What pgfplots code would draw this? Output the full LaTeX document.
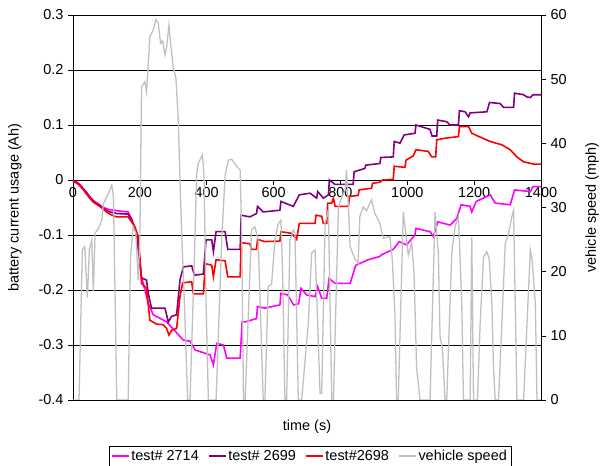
\documentclass[border=0pt]{standalone}
\usepackage{pgfplots}
\pgfplotsset{compat=1.18}
\usepackage{fontspec}
\setmainfont{Liberation Sans}
\definecolor{cmag}{RGB}{255,0,255}
\definecolor{cpur}{RGB}{128,0,128}
\definecolor{cred}{RGB}{255,0,0}
\definecolor{cgray}{RGB}{192,192,192}
\begin{document}
\begin{tikzpicture}[font=\fontsize{14.5}{17}\selectfont]
\begin{axis}[
  scale only axis, width=468bp, height=385bp,
  xmin=0, xmax=1400, ymin=-0.4, ymax=0.3,
  axis x line*=middle, axis y line*=left,
  hide obscured x ticks=false, hide obscured y ticks=false,
  axis line style={-, black, line width=0.8pt},
  xtick={0,200,400,600,800,1000,1200,1400},
  xticklabels={0,200,400,600,800,1000,1200,1400},
  ytick={-0.4,-0.3,-0.2,-0.1,0,0.1,0.2,0.3},
  yticklabels={-0.4,-0.3,-0.2,-0.1,0,0.1,0.2,0.3},
  tick align=outside, major tick length=5bp,
  tick style={black, line width=0.6pt},
  ymajorgrids, grid style={black, line width=0.6pt},
  /pgf/number format/assume math mode=true,
  xticklabel style={anchor=north, yshift=1bp},
  yticklabel style={anchor=east, xshift=-1bp},
  ylabel={battery current usage (Ah)},
  ylabel style={at={(axis description cs:-0.124,0.5)}, anchor=center},
  xlabel={time (s)},
  xlabel style={at={(axis description cs:0.5,-0.07)}, anchor=center},
  legend style={at={(axis description cs:0.506,-0.119)}, anchor=north,
    legend columns=4, draw=black, inner sep=2bp,
    /tikz/every even column/.append style={column sep=7bp},
    font=\fontsize{14.5}{17}\selectfont},
  clip=true,
]
\addplot[cmag, line width=1.6pt] coordinates {
(0,-0.002) (10,-0.003) (20,-0.008) (30,-0.015) (40,-0.022) (50,-0.030) (60,-0.037) (70,-0.041) (80,-0.045) (91,-0.050) (100,-0.052) (110,-0.054) (125,-0.055) (131,-0.056) (165,-0.058)
(175,-0.070) (190,-0.097) (205,-0.176) (225,-0.224) (240,-0.245) (280,-0.258) (330,-0.291) (350,-0.293) (365,-0.309) (410,-0.318) (420,-0.336) (430,-0.297) (450,-0.300) (460,-0.324) (500,-0.324)
(506,-0.258) (515,-0.258) (549,-0.252) (552,-0.230) (574,-0.233) (619,-0.227) (622,-0.206) (642,-0.209) (660,-0.227) (675,-0.225) (682,-0.197) (699,-0.209) (724,-0.212) (732,-0.194) (744,-0.215) (759,-0.215)
(766,-0.179) (784,-0.188) (829,-0.188) (846,-0.155) (883,-0.145) (918,-0.139) (923,-0.136) (958,-0.126) (976,-0.112) (998,-0.118) (1023,-0.100) (1026,-0.088) (1068,-0.094) (1078,-0.103)
(1091,-0.076) (1128,-0.082) (1148,-0.070) (1161,-0.045) (1188,-0.048) (1193,-0.058) (1206,-0.039) (1248,-0.027) (1263,-0.042) (1308,-0.045) (1321,-0.018) (1368,-0.021) (1376,-0.012) (1400,-0.012)
};
\addlegendentry{test\# 2714}
\addplot[cpur, line width=1.6pt] coordinates {
(0,-0.003) (10,-0.004) (20,-0.009) (30,-0.016) (40,-0.023) (50,-0.031) (60,-0.038) (70,-0.043) (80,-0.047) (91,-0.052) (100,-0.055) (110,-0.058) (125,-0.060) (131,-0.061) (165,-0.062)
(175,-0.072) (190,-0.095) (200,-0.150) (205,-0.178) (220,-0.182) (225,-0.206) (235,-0.233) (275,-0.233) (280,-0.245) (285,-0.258) (295,-0.248) (310,-0.245) (320,-0.182) (330,-0.158) (355,-0.156)
(363,-0.173) (390,-0.171) (398,-0.109) (415,-0.109) (420,-0.130) (428,-0.094) (455,-0.094) (463,-0.126) (500,-0.126) (503,-0.064) (529,-0.067) (549,-0.061) (552,-0.048) (569,-0.058) (619,-0.055)
(622,-0.039) (659,-0.048) (677,-0.027) (709,-0.024) (729,-0.033) (732,-0.021) (749,-0.033) (764,-0.027) (767,0.000) (784,-0.008) (838,-0.008) (841,0.015) (873,0.021) (876,0.027) (918,0.030)
(921,0.041) (958,0.042) (961,0.070) (978,0.067) (991,0.082) (1023,0.085) (1026,0.100) (1068,0.092) (1074,0.080) (1088,0.080) (1091,0.109) (1118,0.106) (1128,0.100) (1153,0.100) (1156,0.126)
(1173,0.124) (1183,0.115) (1188,0.122) (1238,0.124) (1246,0.141) (1278,0.139) (1288,0.132) (1318,0.132) (1321,0.158) (1348,0.155) (1358,0.151) (1368,0.150) (1376,0.155) (1400,0.155)
};
\addlegendentry{test\# 2699}
\addplot[cred, line width=1.6pt] coordinates {
(0,-0.004) (10,-0.005) (20,-0.010) (30,-0.017) (40,-0.025) (50,-0.033) (60,-0.040) (70,-0.044) (80,-0.048) (91,-0.053) (100,-0.058) (110,-0.062) (125,-0.066) (131,-0.067) (165,-0.067)
(175,-0.076) (185,-0.085) (195,-0.103) (200,-0.139) (205,-0.188) (220,-0.197) (230,-0.255) (250,-0.262) (270,-0.263) (280,-0.270) (287,-0.282) (295,-0.273) (310,-0.270) (320,-0.212) (328,-0.187)
(355,-0.185) (360,-0.207) (390,-0.207) (396,-0.152) (415,-0.155) (420,-0.176) (428,-0.145) (455,-0.147) (463,-0.176) (500,-0.176) (503,-0.114) (529,-0.116) (534,-0.126) (549,-0.126) (552,-0.108)
(574,-0.112) (619,-0.111) (622,-0.094) (654,-0.097) (669,-0.108) (677,-0.079) (724,-0.079) (727,-0.064) (744,-0.066) (749,-0.079) (759,-0.079) (762,-0.042) (774,-0.042) (779,-0.033) (784,-0.048)
(824,-0.048) (827,-0.030) (853,-0.028) (856,-0.018) (893,-0.015) (896,-0.006) (918,-0.004) (926,0.000) (958,0.001) (961,0.025) (993,0.023) (996,0.036) (1018,0.044) (1026,0.055) (1063,0.052)
(1073,0.042) (1085,0.042) (1088,0.073) (1113,0.076) (1153,0.079) (1156,0.097) (1183,0.097) (1193,0.085) (1218,0.078) (1248,0.070) (1283,0.064) (1308,0.055) (1328,0.042) (1348,0.033) (1378,0.029) (1400,0.029)
};
\addlegendentry{test\#2698}
\addlegendimage{cgray, line width=1.6pt}
\addlegendentry{vehicle speed}
\end{axis}
\begin{axis}[
  scale only axis, width=468bp, height=385bp,
  xmin=0, xmax=1400, ymin=0, ymax=60,
  axis x line=none, axis y line*=right,
  axis line style={-, black, line width=0.8pt},
  ytick={0,10,20,30,40,50,60},
  yticklabels={0,10,20,30,40,50,60},
  tick align=outside, major tick length=5bp,
  tick style={black, line width=0.6pt},
  yticklabel style={anchor=west, xshift=1bp},
  ylabel={vehicle speed (mph)},
  ylabel style={at={(axis description cs:1.109,0.5)}, anchor=center},
]
\addplot[cgray, line width=1.3pt] coordinates {
(0,0) (18,0) (28,23.4) (35,23.9) (43,16) (49,23.4) (56,24.9) (61,17) (66,26) (76,26.7) (86,28) (91,30.6) (106,32.2) (116,33.5) (121,31.7) (131,0) (165,0)
(172,22) (180,27) (188,26) (195,18.7) (200,25) (205,48.8) (215,49.6) (220,48) (230,56.6) (240,57.7) (248,59.3) (255,58.7) (262,55.6) (268,56) (275,53.8) (280,55) (287,58.4) (293,55.1) (300,51.9) (308,50.1) (315,43.6) (320,34.3) (325,26) (332,17) (343,0) (350,0)
(362,20) (370,35.3) (375,36.9) (387,38.2) (392,35) (398,15) (405,0) (428,0) (445,25) (455,35) (465,37.4) (475,37.5) (490,36.4) (500,35.8) (505,24.9) (510,0) (515,0)
(534,26.5) (544,27) (554,24.9) (569,0) (574,0) (584,17.7) (594,18) (604,24.9) (614,27.5) (622,28) (627,20) (634,0) (639,0) (649,24.9) (659,26.5) (664,26) (674,0) (684,0)
(704,12) (714,22.9) (724,23.4) (732,12) (739,1) (744,1) (754,27.5) (764,29.6) (774,0) (779,0) (794,30) (804,31.7) (814,32.7) (818,35.8) (824,30) (829,23.9) (843,22) (853,21.3) (858,28.6) (868,30.1) (878,29.5) (893,31.2) (903,29.1) (918,27.5) (928,25.2) (948,25.5) (955,22) (963,13.5) (968,0) (973,0)
(988,29.3) (1003,22.6) (1013,24.5) (1020,20) (1028,5) (1038,0) (1068,0) (1083,29.3) (1093,22.9) (1098,9.9) (1105,8) (1113,0) (1118,0) (1133,22.9) (1143,27) (1153,28.6) (1163,15.1) (1168,0) (1188,0) (1193,25.4) (1198,0) (1210,0)
(1218,12) (1228,22.3) (1238,23.1) (1245,22) (1253,15) (1258,5) (1263,0) (1273,0) (1283,12) (1293,24.4) (1303,26) (1313,28.6) (1318,29.6) (1328,0) (1348,0) (1368,23.4) (1373,22) (1383,15.1) (1388,0) (1400,0)
};
\end{axis}
\pgfresetboundingbox
\path[use as bounding box] (-73bp,-66bp) rectangle (534bp,400bp);
\end{tikzpicture}
\end{document}
